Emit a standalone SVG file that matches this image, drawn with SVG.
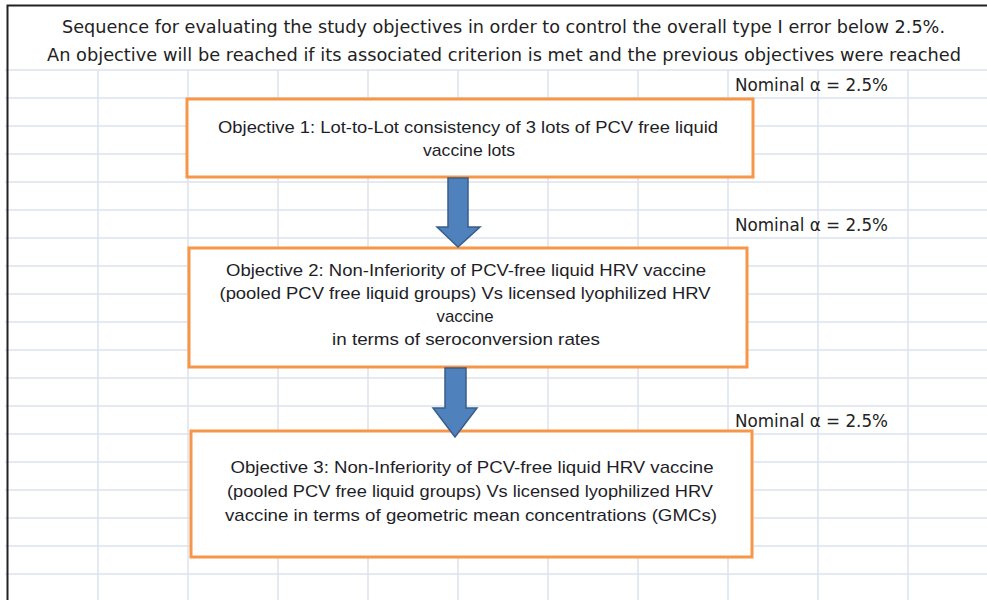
<svg xmlns="http://www.w3.org/2000/svg" width="987" height="600" viewBox="0 0 987 600">
<style>
.grid line{stroke:#dce2ec;stroke-width:1.5}
.hdr{font-family:"DejaVu Sans","Liberation Sans",sans-serif;font-size:18px;fill:#222}
.nom{font-family:"DejaVu Sans","Liberation Sans",sans-serif;font-size:18.5px;fill:#222}
.box{fill:#fff;stroke:#f79646;stroke-width:3}
.bt{font-family:"Liberation Sans",Arial,sans-serif;font-size:17px;fill:#1e1e28;text-anchor:middle}
.arrow{fill:#4f81bd;stroke:#385d8a;stroke-width:1.5}
</style>
<rect x="0" y="0" width="987" height="600" fill="#fff"/>
<g class="grid">
<line x1="5" y1="70" x2="987" y2="70"/><line x1="5" y1="98" x2="987" y2="98"/><line x1="5" y1="126" x2="987" y2="126"/><line x1="5" y1="154" x2="987" y2="154"/><line x1="5" y1="182" x2="987" y2="182"/><line x1="5" y1="210" x2="987" y2="210"/><line x1="5" y1="238" x2="987" y2="238"/><line x1="5" y1="266" x2="987" y2="266"/><line x1="5" y1="294" x2="987" y2="294"/><line x1="5" y1="322" x2="987" y2="322"/><line x1="5" y1="350" x2="987" y2="350"/><line x1="5" y1="378" x2="987" y2="378"/><line x1="5" y1="406" x2="987" y2="406"/><line x1="5" y1="434" x2="987" y2="434"/><line x1="5" y1="462" x2="987" y2="462"/><line x1="5" y1="490" x2="987" y2="490"/><line x1="5" y1="518" x2="987" y2="518"/><line x1="5" y1="546" x2="987" y2="546"/><line x1="5" y1="574" x2="987" y2="574"/>
<line x1="98" y1="70" x2="98" y2="600"/><line x1="188" y1="70" x2="188" y2="600"/><line x1="278" y1="70" x2="278" y2="600"/><line x1="368" y1="70" x2="368" y2="600"/><line x1="458" y1="70" x2="458" y2="600"/><line x1="548" y1="70" x2="548" y2="600"/><line x1="638" y1="70" x2="638" y2="600"/><line x1="728" y1="70" x2="728" y2="600"/><line x1="818" y1="70" x2="818" y2="600"/><line x1="908" y1="70" x2="908" y2="600"/>
</g>
<path d="M7.5,600 V5.5 H987" fill="none" stroke="#222" stroke-width="2"/>
<g id="header">
<text class="hdr" x="62" y="33" textLength="883" lengthAdjust="spacingAndGlyphs">Sequence for evaluating the study objectives in order to control the overall type I error below 2.5%.</text>
<text class="hdr" x="47" y="61" textLength="914" lengthAdjust="spacingAndGlyphs">An objective will be reached if its associated criterion is met and the previous objectives were reached</text>
</g>
<g id="nominal1"><text class="nom" x="735" y="91" textLength="153" lengthAdjust="spacingAndGlyphs">Nominal α = 2.5%</text></g>
<g id="nominal2"><text class="nom" x="735" y="231" textLength="153" lengthAdjust="spacingAndGlyphs">Nominal α = 2.5%</text></g>
<g id="nominal3"><text class="nom" x="735" y="427" textLength="153" lengthAdjust="spacingAndGlyphs">Nominal α = 2.5%</text></g>
<g id="objective1">
<rect class="box" x="187" y="99" width="566" height="78"/>
<text class="bt" x="468" y="133" textLength="500" lengthAdjust="spacingAndGlyphs">Objective 1: Lot-to-Lot  consistency  of 3 lots of PCV  free liquid</text>
<text class="bt" x="469" y="156" textLength="92" lengthAdjust="spacingAndGlyphs">vaccine lots</text>
</g>
<g id="objective2">
<rect class="box" x="189" y="248" width="558" height="119"/>
<text class="bt" x="466" y="276" textLength="480" lengthAdjust="spacingAndGlyphs">Objective 2: Non-Inferiority  of PCV-free liquid  HRV vaccine</text>
<text class="bt" x="465" y="299" textLength="491" lengthAdjust="spacingAndGlyphs">(pooled PCV  free liquid  groups) Vs licensed  lyophilized  HRV</text>
<text class="bt" x="465" y="322" textLength="57" lengthAdjust="spacingAndGlyphs">vaccine</text>
<text class="bt" x="466" y="345" textLength="268" lengthAdjust="spacingAndGlyphs">in terms of seroconversion  rates</text>
</g>
<g id="objective3">
<rect class="box" x="191" y="431" width="561" height="126"/>
<text class="bt" x="472" y="473" textLength="483" lengthAdjust="spacingAndGlyphs">Objective 3: Non-Inferiority  of PCV-free liquid  HRV vaccine</text>
<text class="bt" x="470" y="497" textLength="486" lengthAdjust="spacingAndGlyphs">(pooled PCV  free liquid  groups) Vs licensed  lyophilized  HRV</text>
<text class="bt" x="471" y="521" textLength="492" lengthAdjust="spacingAndGlyphs">vaccine in terms of geometric mean concentrations  (GMCs)</text>
</g>
<g id="connectors">
<path class="arrow" d="M448,178 H468 V227 H480 L458,247 L437,227 H448 Z"/>
<path class="arrow" d="M445,368 H466 V408 H477 L455,437 L433,408 H445 Z"/>
</g>
</svg>
